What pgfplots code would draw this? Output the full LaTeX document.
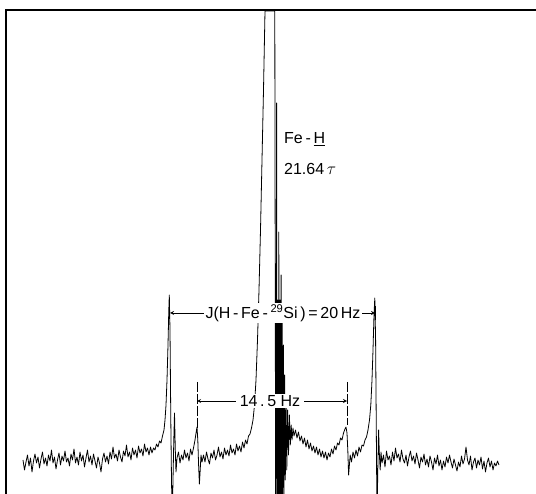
\documentclass[border=0pt]{standalone}
\usepackage{pgfplots}
\pgfplotsset{compat=1.18}
\usepackage{pgfplotstable}
\usepackage{fontspec}
\setmainfont{Liberation Sans}
\pgfplotstableread{
x y
23 460
24.5 470
26 462
27.5 455
29 466
30.5 458
32 472
33.5 461
35 454
36.5 463
38 457
39.5 468
41 459
42.5 452
44 464
45.5 458
47 466
48.5 455
50 461
51.5 450
53 463
54.5 457
56 469
57.5 460
59 453
60.5 465
62 456
63.5 461
65 451
66.5 462
68 458
69.5 466
71 454
72.5 460
74 449
75.5 463
77 457
78.5 465
80 452
81.5 461
83 455
84.5 467
86 458
87.5 450
89 462
90.5 456
92 465
93.5 454
95 461
96.5 468
98 457
99.5 463
101 472
102.5 459
104 453
105.5 462
107 456
108.5 464
110 452
111.5 459
113 447
114.5 458
116 454
117.5 461
119 450
120.5 457
122 462
123.5 451
125 456
126.5 445
128 457
129.5 452
131 460
132.5 448
134 455
135.5 450
137 458
138.5 446
140 453
141.5 449
143 456
144.5 444
146 452
147.5 448
149 455
150.5 447
152 453
153.5 448
155 450
156.5 444
158 447
159.5 441
161 443
162.5 436
164 430
165 420
166 405
167 380
168 345
168.8 310
169.3 295
170 330
170.8 420
171.5 480
172.2 520
173 480
173.8 440
174.5 413
175.3 450
176 472
177 458
178.5 452
180 463
181.5 455
183 460
184.5 450
186 458
187.5 453
189 461
190.5 449
192 455
193.5 448
195 440
196.2 432
197 427
197.8 440
198.6 465
199.4 484
200.2 470
201 455
202 462
203.5 455
205 462
206.5 452
208 459
209.5 464
211 453
212.5 458
214 450
215.5 460
217 455
218.5 447
220 457
221.5 452
223 459
224.5 448
226 455
227.5 450
229 456
230.5 445
232 453
233.5 449
235 455
236.5 444
238 451
239.5 446
241 452
242.5 442
244 448
245.5 440
247 444
248.5 436
250 434
251.5 428
253 420
254.5 405
256 380
257.5 340
259 290
260.5 230
262 160
263.5 90
265 11
274.8 11
275 150
275.3 300
275.6 520
276.2 420
276.6 103
277.1 530
277.7 300
278.2 520
278.8 232
279.4 515
280 300
280.5 505
281.1 275
281.6 500
282.2 320
282.8 500
283.4 345
284 495
284.6 375
285.3 480
286 398
286.8 470
287.6 410
288.5 455
289.4 415
290.3 445
291.2 425
292 440
293 428
294 436
295.5 430
297 438
298.5 432
300 441
301.5 436
303 444
304.5 438
306 447
307.5 440
309 449
310.5 443
312 451
313.5 446
315 453
316.5 447
318 455
319.5 449
321 457
322.5 451
324 458
325.5 452
327 460
328.5 453
330 457
331.5 449
333 454
334.5 446
336 450
337.5 443
339 445
340.5 438
342 440
343.5 433
345 429
346 427
347 433
347.8 450
348.6 475
349.4 465
350.2 455
351.5 462
353 452
354.5 458
356 450
357.5 456
359 447
360.5 452
362 445
363.5 446
365 440
366.5 437
368 430
369.5 420
370.8 405
372 380
373 350
374 315
374.8 298
375.6 340
376.3 430
377 520
377.8 470
378.6 430
379.4 455
380.2 470
381 452
382 463
383.5 455
385 467
386.5 451
388 460
389.5 456
391 465
392.5 452
394 461
395.5 448
397 458
398.5 454
400 462
401.5 450
403 459
404.5 463
406 455
407.5 466
409 457
410.5 451
412 461
413.5 456
415 464
416.5 453
418 460
419.5 468
421 457
422.5 462
424 454
425.5 465
427 459
428.5 467
430 456
431.5 462
433 470
434.5 458
436 464
437.5 455
439 466
440.5 460
442 470
443.5 461
445 467
446.5 457
448 463
449.5 455
451 462
452.5 468
454 459
455.5 465
457 471
458.5 462
460 467
461.5 456
463 464
464.5 459
466 447
467.5 460
469 465
470.5 456
472 470
473.5 462
475 458
476.5 468
478 460
479.5 465
481 457
482.5 469
484 461
485.5 472
487 463
488.5 458
490 467
491.5 461
493 470
494.5 463
496 466
497.5 461
499 465
}\spectrum
\begin{document}
\begin{tikzpicture}
\begin{axis}[
  width=536pt, height=494pt, scale only axis,
  xmin=0, xmax=536, ymin=0, ymax=494, y dir=reverse,
  hide axis,
  clip=true,
]
\addplot[draw=none, forget plot] coordinates {(0,0) (536,494)};
\addplot[black, line width=1.8pt, line cap=butt] coordinates {(6,494) (6,10) (536,10)};
\addplot[black, line width=0.8pt, line join=round] table[x=x,y=y] {\spectrum};
% marker lines of the inner satellites
\addplot[black, line width=0.8pt, dash pattern=on 10pt off 2pt] coordinates {(197,382) (197,428)};
\addplot[black, line width=0.8pt, dash pattern=on 10pt off 2pt] coordinates {(347,382) (347,425)};
\addplot[black, line width=0.8pt] coordinates {(375,306) (375,320)};
% arrows
\draw[line width=0.8pt, <->, >=stealth] (axis cs:170,313) -- (axis cs:375,313);
\draw[line width=0.8pt, <->, >=stealth] (axis cs:197,401) -- (axis cs:347,401);
\node[fill=white, inner sep=1.5pt, font=\fontsize{16}{18}\selectfont] at (axis cs:283,313)
  {J(H\,-\,Fe\,-\,\textsuperscript{29}Si\,)\,=\,20\,Hz};
\node[fill=white, inner sep=1.5pt, font=\fontsize{16}{18}\selectfont] at (axis cs:270,401)
  {\,14\,.\,5 Hz\,};
\node[anchor=west, inner sep=0pt, font=\fontsize{16}{18}\selectfont] at (axis cs:284,139)
  {Fe\,-\,\underline{H}};
\node[anchor=west, inner sep=0pt, font=\fontsize{16}{18}\selectfont] at (axis cs:284,169)
  {21.64\,$\tau$};
\end{axis}
\end{tikzpicture}
\end{document}
